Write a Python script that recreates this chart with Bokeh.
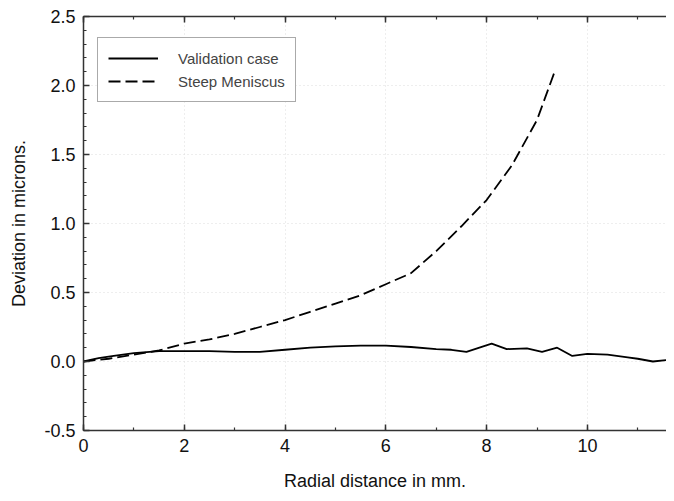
from bokeh.plotting import figure
from bokeh.models import (LinearAxis, Range1d, Legend, LegendItem, SingleIntervalTicker,
                          CustomJSTickFormatter)
from bokeh.embed import file_html
from bokeh.resources import INLINE

# Data
val_x = [0, 0.3, 0.6, 1.0, 1.5, 2.0, 2.5, 3.0, 3.5, 4.0, 4.5, 5.0, 5.5, 6.0, 6.5, 7.0, 7.3, 7.6,
         8.1, 8.4, 8.8, 9.1, 9.4, 9.7, 10.0, 10.4, 10.8, 11.0, 11.3, 11.57]
val_y = [0, 0.025, 0.04, 0.06, 0.075, 0.075, 0.075, 0.07, 0.07, 0.085, 0.1, 0.11, 0.115, 0.115,
         0.105, 0.09, 0.085, 0.07, 0.13, 0.09, 0.095, 0.07, 0.1, 0.04, 0.055, 0.05, 0.03, 0.02, 0.0, 0.01]
steep_x = [0, 0.5, 1.0, 1.5, 2.0, 2.5, 3.0, 3.5, 4.0, 4.5, 5.0, 5.5, 6.0, 6.5, 7.0, 7.5, 8.0, 8.5, 9.0, 9.35]
steep_y = [0, 0.02, 0.05, 0.08, 0.13, 0.16, 0.2, 0.25, 0.3, 0.36, 0.42, 0.48, 0.56, 0.64, 0.8, 0.98,
           1.17, 1.42, 1.75, 2.1]

FONT = "Liberation Sans"
AX = "#333333"

p = figure(width=666, height=493, output_backend="svg", toolbar_location=None,
           x_range=Range1d(0, 11.57), y_range=Range1d(-0.5, 2.5),
           min_border_left=83, min_border_top=16, min_border_right=0, min_border_bottom=10)
p.outline_line_color = None
p.background_fill_color = "white"


def style_axis(ax):
    ax.axis_line_color = AX
    ax.axis_line_width = 1.5
    ax.major_tick_line_color = AX
    ax.minor_tick_line_color = AX
    ax.major_tick_line_width = 1.5
    ax.minor_tick_line_width = 1.2
    ax.major_tick_in = 6
    ax.major_tick_out = 0
    ax.minor_tick_in = 3
    ax.minor_tick_out = 0


for ax in p.xaxis + p.yaxis:
    style_axis(ax)
    ax.major_label_text_font = FONT
    ax.major_label_text_font_size = "18px"
    ax.major_label_text_color = "#111111"
    ax.axis_label_text_font = FONT
    ax.axis_label_text_font_size = "18px"
    ax.axis_label_text_font_style = "normal"
    ax.axis_label_text_color = "#111111"

p.xaxis.ticker = SingleIntervalTicker(interval=2, num_minor_ticks=2)
p.yaxis.ticker = SingleIntervalTicker(interval=0.5, num_minor_ticks=5)
p.xaxis.axis_label = "Radial distance in mm."
p.yaxis.axis_label = "Deviation in microns."
p.yaxis.formatter = CustomJSTickFormatter(code="return tick.toFixed(1);")
p.xaxis.major_label_standoff = 8
p.yaxis.major_label_standoff = 8
p.xaxis.axis_label_standoff = 16
p.yaxis.axis_label_standoff = 12

top = LinearAxis(ticker=SingleIntervalTicker(interval=2, num_minor_ticks=2),
                 formatter=CustomJSTickFormatter(code="return '';"))
style_axis(top)
top.major_label_standoff = 0
p.add_layout(top, "above")

p.xgrid.grid_line_color = "#dcdcdc"
p.xgrid.grid_line_dash = "1 3"
p.ygrid.grid_line_color = "#dcdcdc"
p.ygrid.grid_line_dash = "1 3"

r1 = p.line(val_x, val_y, line_color="black", line_width=1.8)
r2 = p.line(steep_x, steep_y, line_color="black", line_width=1.8, line_dash="12 5")

legend = Legend(items=[LegendItem(label="Validation case", renderers=[r1]),
                       LegendItem(label="Steep Meniscus", renderers=[r2])],
                location=(14, 328))
legend.border_line_color = "#555555"
legend.border_line_width = 1.2
legend.label_text_font = FONT
legend.label_text_font_size = "15px"
legend.glyph_width = 50
legend.label_standoff = 20
legend.padding = 10
legend.spacing = 3
legend.margin = 0
legend.background_fill_alpha = 1
p.add_layout(legend)

open("out.html", "w").write(file_html(p, INLINE))
